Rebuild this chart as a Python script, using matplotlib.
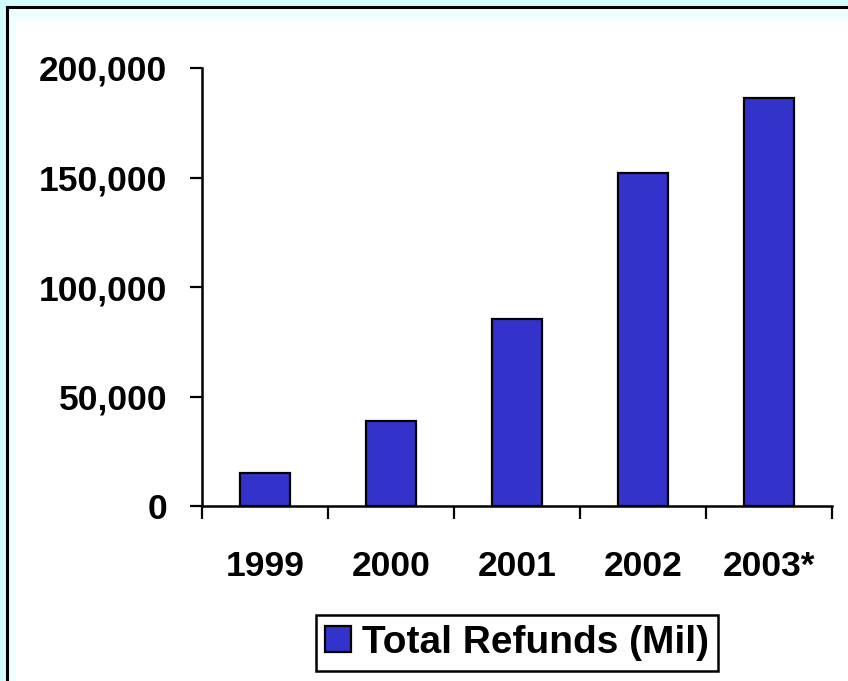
import matplotlib
matplotlib.use("Agg")
import matplotlib.pyplot as plt
from matplotlib.patches import Rectangle
from matplotlib.lines import Line2D
from matplotlib.ticker import FuncFormatter
from matplotlib.font_manager import FontProperties

years = ["1999", "2000", "2001", "2002", "2003*"]
refunds = [15200, 38800, 85200, 152200, 186400]
yticks = [0, 50000, 100000, 150000, 200000]
series_name = "Total Refunds (Mil)"

W, H = 848, 681
fig = plt.figure(figsize=(W / 100, H / 100), dpi=100)
fig.patch.set_facecolor("#D4FFFF")

def fx(px):
    return px / W

def fy(py):
    return 1 - py / H

# inner light band and white area
fig.patches.append(Rectangle((fx(7), 0), 1 - fx(7), fy(7), transform=fig.transFigure,
                             facecolor="#EEFFFF", edgecolor="none", zorder=-3))
fig.patches.append(Rectangle((fx(16), 0), 1 - fx(16), fy(19), transform=fig.transFigure,
                             facecolor="white", edgecolor="none", zorder=-2))
fig.lines.append(Line2D([fx(7), fx(7)], [0, fy(7)], transform=fig.transFigure, color="black", lw=2.2, zorder=-1))
fig.lines.append(Line2D([fx(7), 1], [fy(7), fy(7)], transform=fig.transFigure, color="black", lw=2.2, zorder=-1))

ax = fig.add_axes([fx(202), fy(506), fx(832) - fx(202), fy(68) - fy(506)])
ax.set_facecolor("none")
x = list(range(len(years)))
bars = ax.bar(x, refunds, width=0.4, color="#3333CC", edgecolor="black", linewidth=1.6,
              label=series_name, zorder=3)
ax.set_xlim(-0.5, len(years) - 0.5)
ax.set_ylim(0, 200000)
ax.set_yticks(yticks)
ax.yaxis.set_major_formatter(FuncFormatter(lambda v, p: f"{int(v):,}"))
ax.set_xticks([i - 0.5 for i in range(len(years) + 1)])
ax.set_xticklabels([])
ax.set_xticks(x, minor=True)
ax.set_xticklabels(years, minor=True)
ax.tick_params(axis="x", which="minor", length=0, pad=32)
ax.tick_params(axis="x", which="major", length=9.4, width=1.6, direction="out")
ax.tick_params(axis="y", length=8.6, width=1.6, direction="out", pad=16.5)
for sp in ["top", "right"]:
    ax.spines[sp].set_visible(False)
for sp in ["left", "bottom"]:
    ax.spines[sp].set_linewidth(1.8)

tick_font = FontProperties(family="Liberation Sans", weight="bold", size=25.5)
leg_font = FontProperties(family="Liberation Sans", weight="bold", size=28)
for lbl in ax.get_yticklabels():
    lbl.set_fontproperties(tick_font)
for lbl in ax.get_xticklabels(minor=True):
    lbl.set_fontproperties(tick_font)

leg = fig.legend(handles=[bars], labels=[series_name], loc="center",
                 bbox_to_anchor=(fx(517), fy(643)), frameon=True, fancybox=False,
                 prop=leg_font,
                 handlelength=0.65, handleheight=0.65, handletextpad=0.28,
                 borderpad=0.25, borderaxespad=0, edgecolor="black", framealpha=1)
leg.get_frame().set_linewidth(1.8)

fig.savefig("out.png", dpi=100)
